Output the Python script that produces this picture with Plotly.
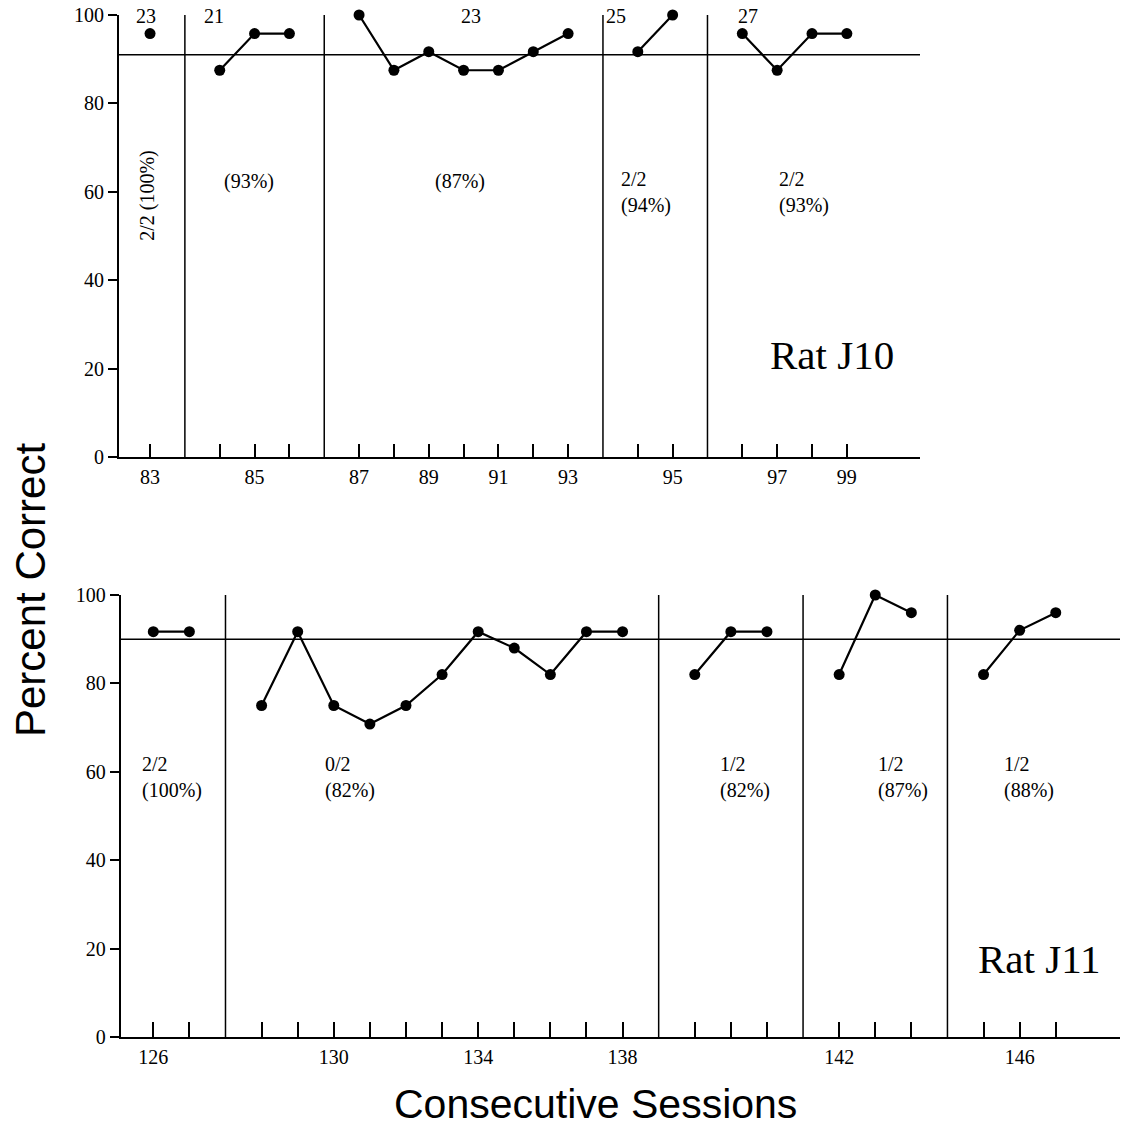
import plotly.graph_objects as go

# ---------------- data: Rat J10 ----------------
j10_sessions = list(range(83, 100))
j10_values = [95.8, 87.5, 95.8, 95.8,
              100, 87.5, 91.7, 87.5, 87.5, 91.7, 95.8,
              91.7, 100,
              95.8, 87.5, 95.8, 95.8]
j10_phase_sizes = [1, 3, 7, 2, 4]
j10_phase_labels = ["23", "21", "23", "25", "27"]
j10_phase_notes = ["2/2 (100%)", "(93%)", "(87%)", "2/2<br>(94%)", "2/2<br>(93%)"]
j10_criterion = 91
j10_tick_labels = [str(s) if s % 2 == 1 else "" for s in j10_sessions]

# ---------------- data: Rat J11 ----------------
j11_sessions = list(range(126, 148))
j11_values = [91.7, 91.7,
              75, 91.7, 75, 70.8, 75, 82, 91.7, 88, 82, 91.7, 91.7,
              82, 91.7, 91.7,
              82, 100, 96,
              82, 92, 96]
j11_phase_sizes = [2, 11, 3, 3, 3]
j11_phase_labels = ["27", "29", "31", "33", "35"]
j11_phase_notes = ["2/2<br>(100%)", "0/2<br>(82%)", "1/2<br>(82%)", "1/2<br>(87%)", "1/2<br>(88%)"]
j11_criterion = 90
j11_tick_labels = [str(s) if (s - 126) % 4 == 0 else "" for s in j11_sessions]

y_ticks = [0, 20, 40, 60, 80, 100]

# ---------------- layout helpers (positions/styles) ----------------
W, H = 1129, 1132
SERIF = "Liberation Serif, Times New Roman, serif"
SANS = "Liberation Sans, Arial, sans-serif"
FS = 20

panels = [
    dict(name="Rat J10", sessions=j10_sessions, values=j10_values, sizes=j10_phase_sizes,
         labels=j10_phase_labels, notes=j10_phase_notes, crit=j10_criterion,
         ticktext=j10_tick_labels,
         xdom=(119, 920), ydom=(15, 457), xr=[0.109, 23.1],
         label_x=[0.89, 2.84, 10.2, 14.37, 18.16], label_y=99.7,
         note_x=[0.94, 3.07, 9.12, 14.46, 19.0], note_y=[59.3, 62.3, 62.3, 59.9, 59.9],
         rat_xy=(20.57, 23.0), ticklen=13),
    dict(name="Rat J11", sessions=j11_sessions, values=j11_values, sizes=j11_phase_sizes,
         labels=j11_phase_labels, notes=j11_phase_notes, crit=j11_criterion,
         ticktext=j11_tick_labels,
         xdom=(120.7, 1120), ydom=(595, 1037), xr=[0.097, 27.78],
         label_x=[1.36, 6.6, 16.5, 20.2, 24.45], label_y=100.4,
         note_x=[0.63, 5.70, 16.63, 21.02, 24.5], note_y=[58.75] * 5,
         rat_xy=(25.56, 17.6), ticklen=15),
]

fig = go.Figure()
shapes = []
annotations = []
layout_axes = {}

for i, p in enumerate(panels):
    xa = "x" if i == 0 else "x2"
    ya = "y" if i == 0 else "y2"
    # slot positions: each phase boundary occupies one slot
    slots = []
    phase_slots = []
    g = 0
    for pi, n in enumerate(p["sizes"]):
        ps = []
        for _ in range(n):
            s = g + 1 + pi
            slots.append(s)
            ps.append(s)
            g += 1
        phase_slots.append(ps)
    g = 0
    for pi, n in enumerate(p["sizes"]):
        fig.add_trace(go.Scatter(
            x=phase_slots[pi], y=p["values"][g:g + n],
            mode="lines+markers",
            line=dict(color="black", width=2.2),
            marker=dict(color="black", size=11),
            cliponaxis=False, showlegend=False, hoverinfo="skip",
            xaxis=xa, yaxis=ya))
        g += n
        if pi > 0:
            xd = phase_slots[pi][0] - 1
            shapes.append(dict(type="line", xref=xa, yref=ya, x0=xd, x1=xd, y0=0, y1=100,
                               line=dict(color="black", width=1.5)))
    # criterion line
    shapes.append(dict(type="line", xref=xa, yref=ya, x0=p["xr"][0], x1=p["xr"][1],
                       y0=p["crit"], y1=p["crit"], line=dict(color="black", width=1.5)))
    # phase labels
    for lx, lab in zip(p["label_x"], p["labels"]):
        annotations.append(dict(xref=xa, yref=ya, x=lx, y=p["label_y"], text=lab,
                                showarrow=False, xanchor="center", yanchor="middle",
                                font=dict(family=SERIF, size=FS, color="black")))
    # notes
    for k, (nx, ny, note) in enumerate(zip(p["note_x"], p["note_y"], p["notes"])):
        if i == 0 and k == 0:
            annotations.append(dict(xref=xa, yref=ya, x=nx, y=ny, text=note, textangle=-90,
                                    showarrow=False, xanchor="center", yanchor="middle",
                                    font=dict(family=SERIF, size=FS, color="black")))
        else:
            annotations.append(dict(xref=xa, yref=ya, x=nx, y=ny, text=note, align="left",
                                    showarrow=False, xanchor="left", yanchor="middle",
                                    font=dict(family=SERIF, size=FS, color="black")))
    # rat label
    annotations.append(dict(xref=xa, yref=ya, x=p["rat_xy"][0], y=p["rat_xy"][1], text=p["name"],
                            showarrow=False, xanchor="center", yanchor="middle",
                            font=dict(family=SERIF, size=41, color="black")))

    xkey = "xaxis" if i == 0 else "xaxis2"
    ykey = "yaxis" if i == 0 else "yaxis2"
    layout_axes[xkey] = dict(
        domain=[p["xdom"][0] / W, p["xdom"][1] / W], anchor=ya,
        range=p["xr"], tickmode="array", tickvals=slots, ticktext=p["ticktext"],
        ticks="inside", ticklen=p["ticklen"], tickwidth=1.5, tickcolor="black",
        showline=True, linecolor="black", linewidth=2, showgrid=False, zeroline=False,
        automargin=False,
        tickfont=dict(family=SERIF, size=FS, color="black"), ticklabelstandoff=1)
    layout_axes[ykey] = dict(
        domain=[1 - p["ydom"][1] / H, 1 - p["ydom"][0] / H], anchor=xa,
        range=[0, 100], tickmode="array", tickvals=y_ticks,
        ticks="outside", ticklen=9, tickwidth=1.5, tickcolor="black",
        showline=True, linecolor="black", linewidth=2, showgrid=False, zeroline=False,
        automargin=False,
        tickfont=dict(family=SERIF, size=FS, color="black"))

annotations.append(dict(xref="paper", yref="paper", x=30 / W, y=1 - 590 / H,
                        text="Percent Correct", textangle=-90, showarrow=False,
                        xanchor="center", yanchor="middle",
                        font=dict(family=SANS, size=42, color="black")))
annotations.append(dict(xref="paper", yref="paper", x=595 / W, y=1 - 1104 / H,
                        text="Consecutive Sessions", showarrow=False,
                        xanchor="center", yanchor="middle", borderpad=0,
                        font=dict(family=SANS, size=41, color="black")))

fig.update_layout(width=W, height=H, autosize=False,
                  margin=dict(l=0, r=0, t=0, b=0, pad=0, autoexpand=False),
                  paper_bgcolor="white", plot_bgcolor="white",
                  shapes=shapes, annotations=annotations, showlegend=False,
                  **layout_axes)

fig.write_html("out.html", config={"displayModeBar": False},
               post_script="document.body.style.margin='0';document.body.style.overflow='hidden';")
